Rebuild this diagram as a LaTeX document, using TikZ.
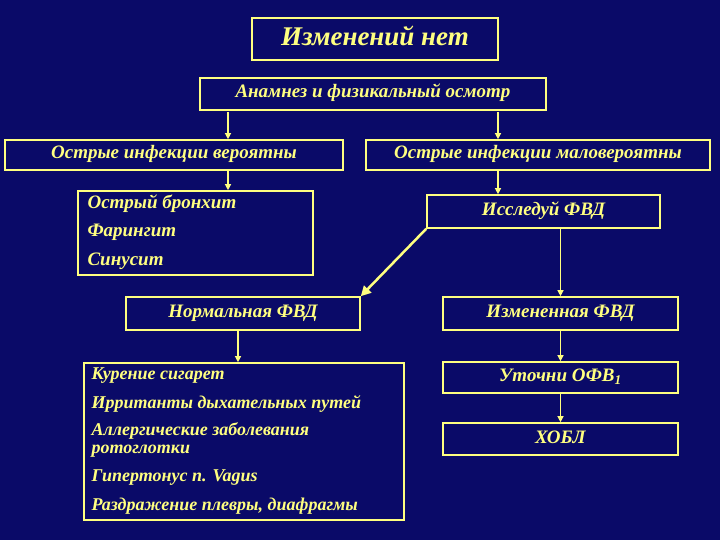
\documentclass[tikz,border=0pt]{standalone}
\usepackage{fontspec}
\setmainfont{Liberation Serif}
\usetikzlibrary{arrows.meta}
\definecolor{bg}{HTML}{0A0A68}
\definecolor{yl}{HTML}{FFFF80}
\newcommand{\bxfont}{\bfseries\itshape\fontsize{19}{19}\selectfont}
\tikzset{
 bx/.style={draw=yl,line width=1.6pt,text=yl,font=\bxfont,inner sep=0pt,text height=12pt,text depth=4pt},
 ar/.style={yl,line width=1.2pt,-{Triangle[length=6pt,width=6pt]}},
}
\begin{document}
\begin{tikzpicture}[x=1pt,y=-1pt]
\fill[bg] (0,0) rectangle (720,540);
\useasboundingbox (0,0) rectangle (720,540);
\node[bx,minimum width=246pt,minimum height=42pt,text height=18pt,text depth=5pt,font=\bfseries\itshape\fontsize{27}{27}\selectfont] (b0) at (375,39) {Изменений нет};
\node[bx,minimum width=346pt,minimum height=32pt] (b1) at (373,94) {Анамнез и физикальный осмотр};
\node[bx,minimum width=338pt,minimum height=30pt] (b2) at (174,155) {Острые инфекции вероятны};
\node[bx,minimum width=344pt,minimum height=30pt] (b3) at (538,155) {Острые инфекции маловероятны};
\node[bx,minimum width=235pt,minimum height=84pt] (b4) at (195.5,233) {};
\begin{scope}[every node/.style={text=yl,font=\bxfont,anchor=west,align=left}]
\node at (84,204) {Острый бронхит};
\node at (84,232) {Фарингит};
\node at (84,261) {Синусит};
\end{scope}
\node[bx,minimum width=233pt,minimum height=33pt] (b5) at (543.5,211.5) {Исследуй ФВД};
\node[bx,minimum width=234pt,minimum height=33pt] (b6) at (243,313.5) {Нормальная ФВД};
\node[bx,minimum width=235pt,minimum height=33pt] (b7) at (560.5,313.5) {Измененная ФВД};
\node[bx,minimum width=320pt,minimum height=157pt] (b8) at (244,441.5) {};
\begin{scope}[every node/.style={text=yl,font=\bfseries\itshape\fontsize{18}{18}\selectfont,anchor=west,align=left}]
\node at (88,376) {Курение сигарет};
\node at (88,404) {Ирританты дыхательных путей};
\node at (88,440) {Аллергические заболевания\\ротоглотки};
\node at (88,478) {Гипертонус n. Vagus};
\node at (88,506) {Раздражение плевры, диафрагмы};
\end{scope}
\node[bx,minimum width=235pt,minimum height=31pt] (b9) at (560.5,377.5) {Уточни ОФВ\textsubscript{1}};
\node[bx,minimum width=235pt,minimum height=32pt] (b10) at (560.5,439) {ХОБЛ};
\coordinate (c1) at (228,112);
\coordinate (c2) at (498,112);
\draw[ar] (c1) -- (b2.north -| c1);
\draw[ar] (c2) -- (b3.north -| c2);
\draw[ar] (b2.south -| c1) -- (b4.north -| c1);
\draw[ar] (b3.south -| c2) -- (b5.north -| c2);
\draw[yl,line width=2.5pt,-{Triangle[length=10pt,width=10pt]}] (b5.south west) -- (b6.north east);
\draw[ar] (b5.south -| b7.north) -- (b7.north);
\draw[ar] (b6.south -| 238,0) -- (b8.north -| 238,0);
\draw[ar] (b7.south) -- (b9.north);
\draw[ar] (b9.south) -- (b10.north);
\end{tikzpicture}
\end{document}
